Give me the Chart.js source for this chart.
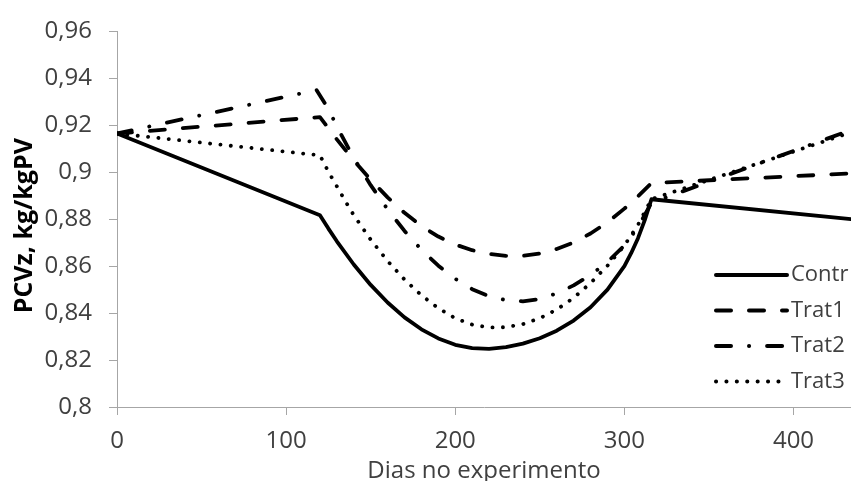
<!DOCTYPE html>
<html lang="pt">
<head>
<meta charset="UTF-8">
<title>PCVz - dias no experimento</title>
<script src="https://cdn.jsdelivr.net/npm/chart.js"></script>
<style>
  html, body { margin: 0; padding: 0; background: #fff; }
  #wrap { width: 851px; height: 481px; }
</style>
</head>
<body>
<div id="wrap"><canvas id="pcvzChart" width="851" height="481"></canvas></div>
<script>
// PCVz (kg/kgPV) ao longo dos dias, por tratamento
const contrDays   = [0, 120, 125, 130, 140, 150, 160, 170, 180, 190, 200, 210, 220, 230, 240, 250, 260, 270, 280, 290, 300, 304, 308, 312, 316, 434];
const contrValues = [0.9165, 0.8817, 0.876, 0.8706, 0.8607, 0.852, 0.8445, 0.8382, 0.8331, 0.8292, 0.8265, 0.8251, 0.8248, 0.8255, 0.827, 0.8293, 0.8325, 0.8368, 0.8425, 0.85, 0.86, 0.8655, 0.8718, 0.8795, 0.8885, 0.880];

const trat1Days   = [0, 120, 130, 140, 150, 160, 170, 180, 190, 200, 210, 220, 230, 240, 250, 260, 270, 280, 290, 300, 308, 316, 434];
const trat1Values = [0.9165, 0.9235, 0.914, 0.905, 0.8968, 0.8893, 0.8827, 0.8771, 0.8726, 0.8692, 0.8668, 0.8652, 0.8644, 0.8644, 0.8654, 0.8673, 0.8701, 0.8739, 0.8787, 0.8845, 0.8897, 0.8954, 0.8995];

const trat2Days   = [0, 118, 125, 130, 140, 150, 160, 170, 180, 190, 200, 210, 220, 230, 240, 250, 260, 270, 280, 290, 300, 308, 316, 434];
const trat2Values = [0.9165, 0.935, 0.927, 0.9195, 0.906, 0.8945, 0.8842, 0.875, 0.867, 0.8602, 0.8546, 0.8502, 0.8472, 0.8455, 0.845, 0.846, 0.8484, 0.8518, 0.8562, 0.8618, 0.8688, 0.8765, 0.887, 0.918];

const trat3Days   = [0, 120, 125, 130, 135, 140, 150, 160, 170, 180, 190, 200, 210, 220, 230, 240, 250, 260, 270, 280, 290, 300, 308, 316, 434];
const trat3Values = [0.9165, 0.9072, 0.9002, 0.894, 0.8877, 0.8817, 0.8713, 0.8622, 0.8543, 0.8476, 0.8421, 0.8378, 0.8351, 0.8339, 0.834, 0.8353, 0.8378, 0.8415, 0.8465, 0.8528, 0.8602, 0.8688, 0.8775, 0.8885, 0.917];

const seriesLabels = ['Contr', 'Trat1', 'Trat2', 'Trat3'];
const xTicksStep = 100;
const yMin = 0.8, yMax = 0.96, yStep = 0.02;

const toPoints = (xs, ys) => xs.map((x, i) => ({ x: x, y: ys[i] }));

const axisGray = '#a6a6a6';
const textGray = '#404040';

Chart.defaults.font.family = '"Open Sans", sans-serif';
Chart.defaults.font.size = 24;
Chart.defaults.color = textGray;

const lineBase = {
  borderColor: '#000',
  borderWidth: 3.8,
  pointRadius: 0,
  tension: 0,
  fill: false,
  borderCapStyle: 'round',
  borderJoinStyle: 'round'
};

// legenda dentro da área do gráfico, canto inferior direito
const insideLegend = {
  id: 'insideLegend',
  afterDatasetsDraw(chart) {
    const ctx = chart.ctx;
    const x0 = 716, x1 = 787;
    ctx.save();
    chart.data.datasets.forEach((ds, i) => {
      const y = 275 + i * 35.5;
      ctx.beginPath();
      ctx.strokeStyle = ds.borderColor;
      ctx.lineWidth = 4;
      ctx.lineCap = 'round';
      ctx.setLineDash(ds.borderDash || []);
      ctx.moveTo(x0, y);
      ctx.lineTo(x1, y);
      ctx.stroke();
      ctx.setLineDash([]);
      ctx.fillStyle = textGray;
      ctx.font = '22px "Open Sans", sans-serif';
      ctx.textBaseline = 'middle';
      ctx.textAlign = 'left';
      ctx.fillText(ds.label, 791, y);
    });
    ctx.restore();
  }
};

new Chart(document.getElementById('pcvzChart'), {
  type: 'line',
  data: {
    datasets: [
      Object.assign({}, lineBase, { label: seriesLabels[0], data: toPoints(contrDays, contrValues), borderDash: [] }),
      Object.assign({}, lineBase, { label: seriesLabels[1], data: toPoints(trat1Days, trat1Values), borderDash: [15, 18] }),
      Object.assign({}, lineBase, { label: seriesLabels[2], data: toPoints(trat2Days, trat2Values), borderDash: [15, 18, 0.1, 18] }),
      Object.assign({}, lineBase, { label: seriesLabels[3], data: toPoints(trat3Days, trat3Values), borderDash: [0.1, 10.3] })
    ]
  },
  options: {
    responsive: false,
    animation: false,
    devicePixelRatio: 1,
    layout: { padding: { top: 24, right: 0, bottom: 0, left: 0 } },
    plugins: {
      legend: { display: false },
      tooltip: { enabled: false }
    },
    scales: {
      x: {
        type: 'linear',
        min: 0,
        max: 434,
        afterFit(scale) { scale.height = 74; },
        grid: { drawOnChartArea: false, drawTicks: true, tickLength: 8, color: axisGray },
        border: { color: axisGray, width: 1 },
        ticks: { stepSize: xTicksStep, includeBounds: false, padding: 12, color: textGray },
        title: {
          display: true,
          text: 'Dias no experimento',
          color: textGray,
          font: { size: 24, lineHeight: 1 },
          padding: { top: 0, bottom: -2 }
        }
      },
      y: {
        min: yMin,
        max: yMax,
        afterFit(scale) { scale.width = 117; },
        grid: { drawOnChartArea: false, drawTicks: true, tickLength: 8, color: axisGray },
        border: { color: axisGray, width: 1 },
        ticks: {
          stepSize: yStep,
          padding: 17,
          color: textGray,
          callback: (v) => String(parseFloat(v.toFixed(2))).replace('.', ',')
        },
        title: {
          display: true,
          // os espaços finais deslocam o título um pouco para baixo
          text: 'PCVz, kg/kgPV  ',
          color: '#000',
          font: { size: 25, weight: 'bold', lineHeight: 1 },
          padding: { top: 12, bottom: 0 }
        }
      }
    }
  },
  plugins: [insideLegend]
});
</script>
</body>
</html>
